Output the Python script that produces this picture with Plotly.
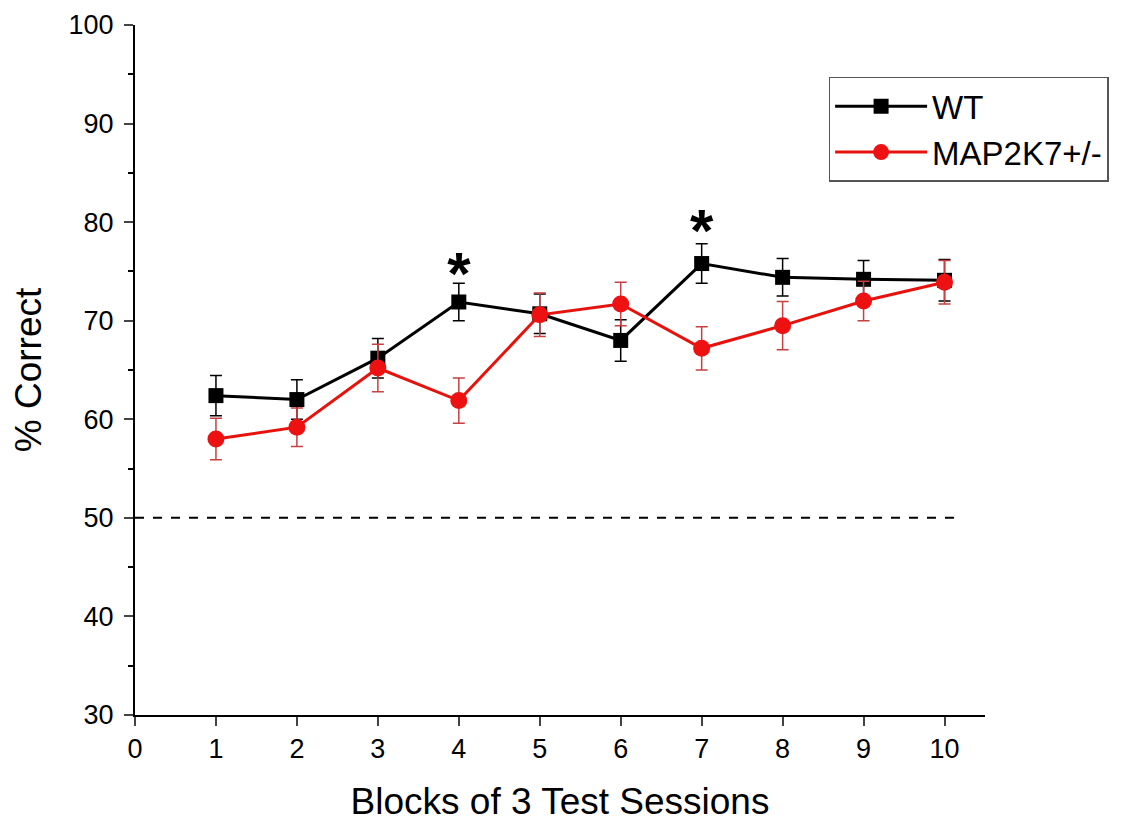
import plotly.graph_objects as go

blocks = [1, 2, 3, 4, 5, 6, 7, 8, 9, 10]
wt_mean = [62.4, 62.0, 66.2, 71.9, 70.7, 68.0, 75.8, 74.4, 74.2, 74.1]
wt_err = [2.05, 2.0, 2.0, 1.9, 2.0, 2.1, 2.0, 1.9, 1.9, 2.1]
map_mean = [58.0, 59.2, 65.2, 61.9, 70.6, 71.7, 67.2, 69.5, 72.0, 73.9]
map_err = [2.1, 1.95, 2.4, 2.3, 2.2, 2.2, 2.2, 2.45, 2.0, 2.2]
star_x = [4, 7]
star_y = [74.2, 78.6]
chance_level = 50
x_ticks = [0, 1, 2, 3, 4, 5, 6, 7, 8, 9, 10]
y_ticks = [30, 40, 50, 60, 70, 80, 90, 100]

FONT = "Liberation Sans, Arial, sans-serif"

fig = go.Figure()

fig.add_trace(go.Scatter(
    x=blocks, y=wt_mean, name="WT", mode="lines+markers",
    line=dict(color="black", width=3),
    marker=dict(symbol="square", size=15, color="black"),
    error_y=dict(type="data", array=wt_err, visible=True, color="black", thickness=1.5, width=6),
))
fig.add_trace(go.Scatter(
    x=blocks, y=map_mean, name="MAP2K7+/-", mode="lines+markers",
    line=dict(color="#e8120c", width=3),
    marker=dict(symbol="circle", size=17, color="#ee1111"),
    error_y=dict(type="data", array=map_err, visible=True, color="#c84040", thickness=1.5, width=6),
))

fig.add_trace(go.Scatter(
    x=[0, 10.2], y=[chance_level, chance_level], mode="lines",
    line=dict(color="black", width=2, dash="dash"), showlegend=False, hoverinfo="skip",
))

fig.add_trace(go.Scatter(
    x=star_x, y=star_y, mode="text", text=["*", "*"],
    textfont=dict(size=60, color="black", family=FONT, weight="bold"), showlegend=False,
    textposition="middle center", hoverinfo="skip",
))

fig.update_layout(
    width=1122, height=817,
    margin=dict(l=127, r=145, t=17, b=110, autoexpand=False),
    paper_bgcolor="white", plot_bgcolor="white",
    font=dict(family=FONT, color="black", size=27),
    legend=dict(
        x=0.816, y=0.925, xanchor="left", yanchor="top",
        bordercolor="#555555", borderwidth=1.5, bgcolor="white",
        font=dict(size=33, family=FONT), itemwidth=92,
        tracegroupgap=0,
    ),
    showlegend=True,
)

fig.update_xaxes(
    range=[0, 10.5], tickvals=x_ticks, ticks="outside", ticklen=9, tickwidth=2,
    showline=True, linecolor="black", linewidth=2, showgrid=False, zeroline=False,
    automargin=False,
    tickfont=dict(size=27), title=dict(text="Blocks of 3 Test Sessions", font=dict(size=37), standoff=25),
)
fig.update_yaxes(
    range=[30, 100], tickvals=y_ticks, ticks="outside", ticklen=9, tickwidth=2,
    showline=True, linecolor="black", linewidth=2, showgrid=False, zeroline=False,
    automargin=False, ticklabelstandoff=5,
    minor=dict(dtick=5, ticks="outside", ticklen=5, tickwidth=1.5, tickcolor="black", showgrid=False),
    tickfont=dict(size=27), title=dict(text="% Correct", font=dict(size=37), standoff=22),
)

fig.write_html("out.html")
